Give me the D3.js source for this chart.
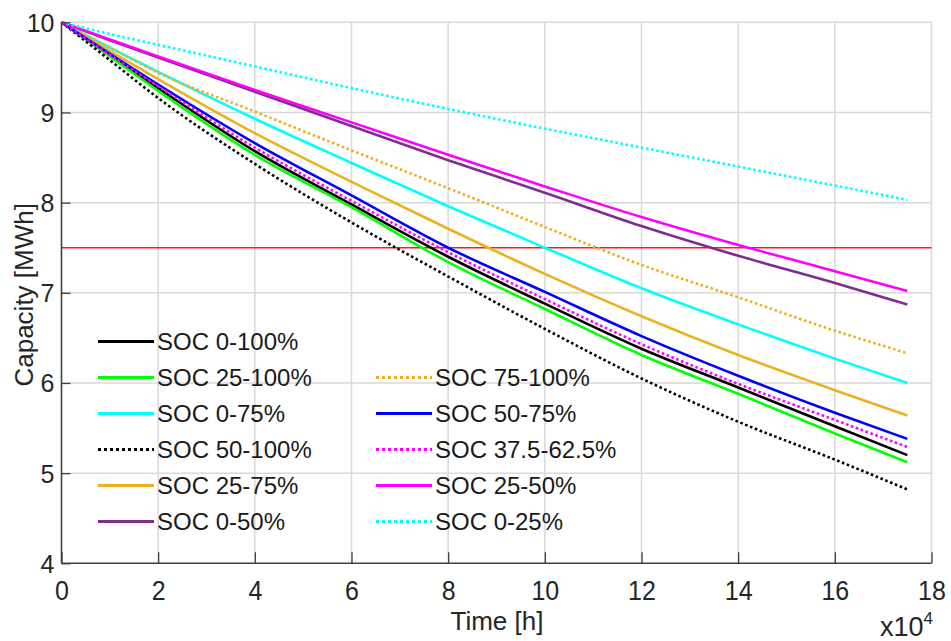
<!DOCTYPE html>
<html>
<head>
<meta charset="utf-8">
<script src="https://cdn.jsdelivr.net/npm/d3@7"></script>
<style>
  html, body { margin: 0; padding: 0; background: #fff; }
  svg { display: block; font-family: "Liberation Sans", Arial, sans-serif; }
</style>
</head>
<body>
<svg id="chart" width="951" height="641"></svg>
<script>
// ---- data (time in hours, capacity in MWh) ----
const timeHours = [0, 10000, 20000, 40000, 60000, 80000, 100000, 120000, 140000, 160000, 175000];

const soc0_100   = [10, 9.63, 9.27, 8.57, 7.98, 7.40, 6.88, 6.38, 5.95, 5.52, 5.20];
const soc25_100  = [10, 9.62, 9.24, 8.53, 7.95, 7.34, 6.82, 6.31, 5.88, 5.44, 5.12];
const soc0_75    = [10, 9.72, 9.45, 8.93, 8.44, 7.96, 7.50, 7.05, 6.65, 6.27, 6.00];
const soc50_100  = [10, 9.58, 9.16, 8.43, 7.78, 7.18, 6.60, 6.05, 5.57, 5.15, 4.82];
const soc25_75   = [10, 9.68, 9.37, 8.77, 8.23, 7.71, 7.21, 6.74, 6.31, 5.92, 5.64];
const soc0_50    = [10, 9.80, 9.61, 9.23, 8.85, 8.47, 8.11, 7.74, 7.41, 7.11, 6.87];
const soc75_100  = [10, 9.72, 9.44, 9.01, 8.58, 8.16, 7.73, 7.31, 6.95, 6.58, 6.33];
const soc50_75   = [10, 9.65, 9.31, 8.66, 8.08, 7.50, 7.01, 6.52, 6.08, 5.67, 5.38];
const soc375_625 = [10, 9.64, 9.29, 8.61, 8.02, 7.45, 6.93, 6.43, 5.99, 5.59, 5.29];
const soc25_50   = [10, 9.81, 9.62, 9.25, 8.89, 8.53, 8.18, 7.84, 7.53, 7.24, 7.02];
const soc0_25    = [10, 9.87, 9.75, 9.51, 9.27, 9.04, 8.82, 8.61, 8.40, 8.19, 8.03];

const endOfLife = 7.5;

const seriesNames = ["SOC 0-100%", "SOC 25-100%", "SOC 0-75%", "SOC 50-100%", "SOC 25-75%", "SOC 0-50%",
                     "SOC 75-100%", "SOC 50-75%", "SOC 37.5-62.5%", "SOC 25-50%", "SOC 0-25%"];
const seriesValues = [soc0_100, soc25_100, soc0_75, soc50_100, soc25_75, soc0_50,
                      soc75_100, soc50_75, soc375_625, soc25_50, soc0_25];
const seriesColors = ["#000000", "#00ff00", "#00ffff", "#000000", "#edb120", "#7e2f8e",
                      "#edb120", "#0000ff", "#ff00ff", "#ff00ff", "#00ffff"];
const seriesDotted = [false, false, false, true, false, false, true, false, true, false, true];

const xTicks = [0, 20000, 40000, 60000, 80000, 100000, 120000, 140000, 160000, 180000];
const yTicks = [4, 5, 6, 7, 8, 9, 10];

// ---- layout ----
const svg = d3.select("#chart");
const L = 61.5, R = 931.5, T = 22.3, B = 563.3;
const x = d3.scaleLinear().domain([0, 180000]).range([L, R]);
const y = d3.scaleLinear().domain([4, 10]).range([B, T]);

// grid
const grid = svg.append("g").attr("stroke", "#d9d9d9").attr("stroke-width", 1.5);
grid.selectAll(".vg").data(xTicks.slice(1)).join("line")
  .attr("x1", d => x(d)).attr("x2", d => x(d)).attr("y1", T).attr("y2", B);
grid.selectAll(".hg").data(yTicks.slice(1)).join("line")
  .attr("x1", L).attr("x2", R).attr("y1", d => y(d)).attr("y2", d => y(d));

// red end-of-life line
svg.append("line")
  .attr("x1", x(0)).attr("x2", x(180000)).attr("y1", y(endOfLife)).attr("y2", y(endOfLife))
  .attr("stroke", "#ff1a1a").attr("stroke-width", 1.4);

// series
const line = d3.line().x((d, i) => x(timeHours[i])).y(d => y(d)).curve(d3.curveMonotoneX);
const order = [0, 1, 2, 3, 4, 5, 6, 7, 9, 10, 8];
const lines = svg.append("g").attr("fill", "none");
order.forEach(k => {
  lines.append("path")
    .attr("d", line(seriesValues[k]))
    .attr("stroke", seriesColors[k])
    .attr("stroke-width", 2.6)
    .attr("stroke-linejoin", "round")
    .attr("stroke-dasharray", seriesDotted[k] ? "2.6,2.6" : null);
});

// axes
const axisColor = "#404040";
const xAxis = d3.axisBottom(x).tickValues(xTicks).tickSize(-11).tickPadding(0)
  .tickFormat(d => d3.format("d")(d / 10000));
const gx = svg.append("g").attr("transform", `translate(0,${B})`).call(xAxis);
gx.select(".domain").attr("stroke", axisColor).attr("stroke-width", 1.6).attr("d", `M${L},0H${R}`);
gx.selectAll(".tick line").attr("stroke", axisColor).attr("stroke-width", 1.3);
gx.selectAll(".tick text")
  .attr("fill", "#262626").attr("font-size", 25).attr("font-family", "Liberation Sans, Arial, sans-serif")
  .attr("y", 0).attr("dy", null)
  .attr("transform", "translate(0,37) scale(1,1.12)");

const yAxis = d3.axisLeft(y).tickValues(yTicks).tickSize(-9).tickPadding(0).tickFormat(d3.format("d"));
const gy = svg.append("g").attr("transform", `translate(${L},0)`).call(yAxis);
gy.select(".domain").attr("stroke", axisColor).attr("stroke-width", 1.6).attr("d", `M0,${B}V${T}`);
gy.selectAll(".tick line").attr("stroke", axisColor).attr("stroke-width", 1.3);
gy.selectAll(".tick text")
  .attr("fill", "#262626").attr("font-size", 25).attr("font-family", "Liberation Sans, Arial, sans-serif")
  .attr("x", -7).attr("dy", "0.36em");

// axis labels
svg.append("text")
  .attr("x", (L + R) / 2 + 0.5).attr("y", 630)
  .attr("text-anchor", "middle").attr("font-size", 26).attr("fill", "#262626")
  .text("Time [h]");
svg.append("text")
  .attr("transform", `translate(33,${(T + B) / 2 + 2}) rotate(-90)`)
  .attr("text-anchor", "middle").attr("font-size", 26).attr("fill", "#262626")
  .text("Capacity [MWh]");

// exponent label
const ex = svg.append("text").attr("x", 880).attr("y", 636).attr("font-size", 27).attr("fill", "#262626");
ex.append("tspan").text("x10");
ex.append("tspan").attr("font-size", 17).attr("dy", -12).text("4");

// legend
const legendPos = [[0, 0], [0, 1], [0, 2], [0, 3], [0, 4], [0, 5], [1, 1], [1, 2], [1, 3], [1, 4], [1, 5]];
const colX = [[98, 154, 157], [376, 432, 435]];
const rowY0 = 341.5, rowDy = 36;
const lg = svg.append("g");
seriesNames.forEach((name, k) => {
  const [c, r] = legendPos[k];
  const yy = rowY0 + r * rowDy;
  lg.append("line")
    .attr("x1", colX[c][0]).attr("x2", colX[c][1]).attr("y1", yy).attr("y2", yy)
    .attr("stroke", seriesColors[k]).attr("stroke-width", 3)
    .attr("stroke-dasharray", seriesDotted[k] ? "3,3" : null);
  lg.append("text")
    .attr("x", colX[c][2]).attr("y", yy).attr("dy", "0.36em")
    .attr("font-size", 24).attr("fill", "#1a1a1a")
    .text(name);
});
</script>
</body>
</html>
